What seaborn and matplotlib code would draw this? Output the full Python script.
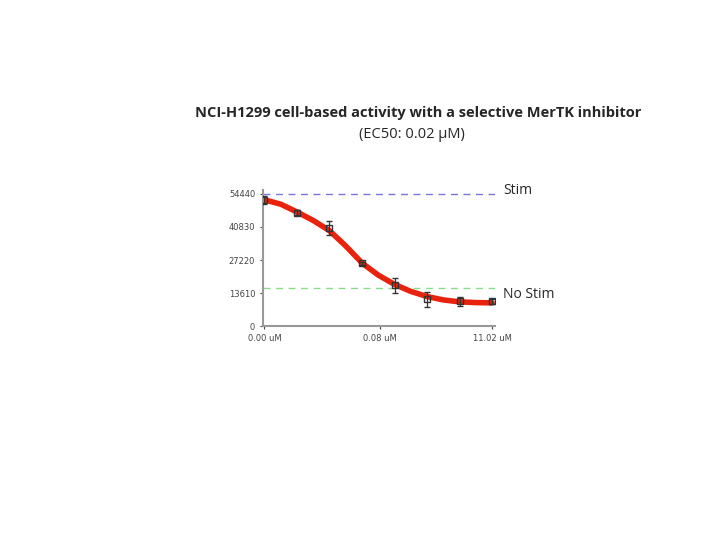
import matplotlib
matplotlib.use("Agg")
import matplotlib.pyplot as plt
import seaborn as sns
import pandas as pd

# measured points (dose index 0..7)
dose_pos = [0, 1, 2, 3, 4, 5, 6, 7]
signal = [51950, 46600, 40500, 25800, 16800, 11000, 10200, 10200]
err = [1500, 1000, 2800, 500, 3000, 3000, 2000, 1000]

# fitted curve
curve_pos = [0, 0.5, 1, 1.5, 2, 2.5, 3, 3.5, 4, 4.5, 5, 5.5, 6, 6.5, 7]
curve_val = [52000, 50200, 47000, 43500, 39300, 33000, 26000, 21000, 17200, 14300,
             12200, 10800, 10000, 9700, 9600]

stim = 54440
no_stim = 15500
yticks = [0, 13610, 27220, 40830, 54440]
xticks = [0, 3.55, 7]
xlabels = ["0.00 uM", "0.08 uM", "11.02 uM"]

sns.set_style("white")
fig = plt.figure(figsize=(7.2, 5.4), dpi=100)
ax = fig.add_axes([0.365, 0.396, 0.323, 0.252])

df = pd.DataFrame({"x": curve_pos, "y": curve_val})
sns.lineplot(data=df, x="x", y="y", ax=ax, color="#e8220c", linewidth=4, zorder=2)
ax.errorbar(dose_pos, signal, yerr=err, fmt="s", mfc="none", mec="#333333", ms=4,
            ecolor="#333333", elinewidth=0.9, capsize=2, zorder=3)
ax.axhline(stim, color="#7777dd", ls=(0, (5, 4)), lw=1, zorder=1)
ax.axhline(no_stim, color="#88dd88", ls=(0, (5, 4)), lw=1, zorder=1)

ax.set_xlim(-0.05, 7.1)
ax.set_ylim(0, 56000)
ax.set_yticks(yticks)
ax.set_yticklabels([str(v) for v in yticks])
ax.set_xticks(xticks)
ax.set_xticklabels(xlabels)
ax.tick_params(labelsize=6, colors="#444444", length=2, direction="out", left=True, bottom=True)
for s in ["top", "right"]:
    ax.spines[s].set_visible(False)
for s in ["left", "bottom"]:
    ax.spines[s].set_color("#999999")
    ax.spines[s].set_linewidth(1.5)
ax.set_xlabel("")
ax.set_ylabel("")

fig.text(503/720, 1 - 190/540, "Stim", fontsize=10, va="center", family="Open Sans")
fig.text(503/720, 1 - 295/540, "No Stim", fontsize=10, va="center", family="Open Sans")
fig.text(418/720, 1 - 113/540, "NCI-H1299 cell-based activity with a selective MerTK inhibitor",
         fontsize=10.5, fontweight="bold", ha="center", va="center", family="Open Sans")
fig.text(412/720, 1 - 135/540, "(EC50: 0.02 \u00b5M)", fontsize=10.5, ha="center", va="center",
         family="Open Sans")

fig.savefig("out.png", dpi=100)
